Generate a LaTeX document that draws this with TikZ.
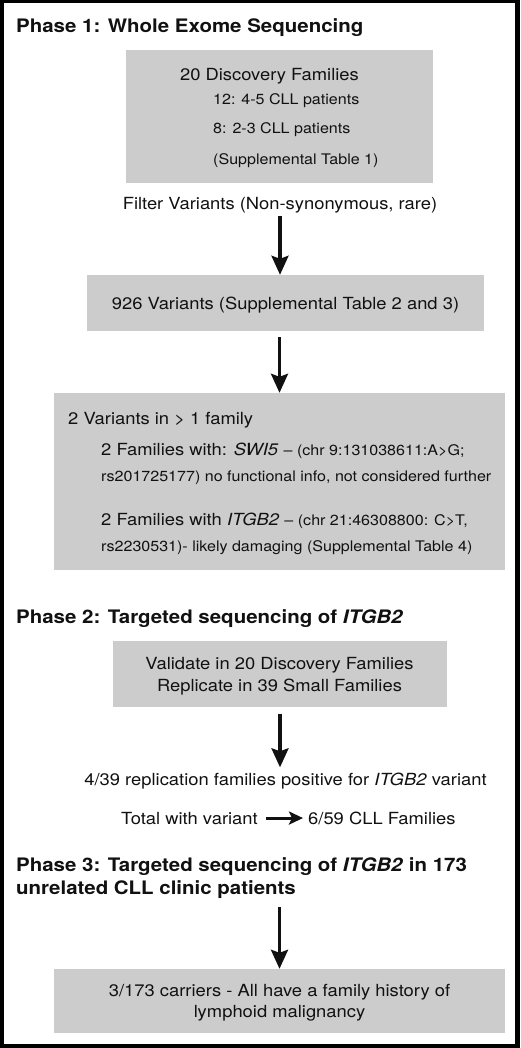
\documentclass[tikz,border=0pt]{standalone}
\usepackage{fontspec}
\setmainfont{TeX Gyre Heros}[FakeStretch=1.1]
\usetikzlibrary{arrows.meta}
\definecolor{boxgray}{RGB}{204,204,204}
\definecolor{ink}{RGB}{17,17,17}
\newcommand{\smf}{\fontsize{14.6}{18}\selectfont}
\begin{document}
\begin{tikzpicture}[x=1pt,y=-1pt,
  box/.style={fill=boxgray, draw=none, inner sep=0pt},
  big/.style={font=\fontsize{16.7}{20}\selectfont, inner sep=0pt, text=ink},
  sm/.style={font=\smf, inner sep=0pt, text=ink},
  ttl/.style={font=\fontsize{18.6}{22}\selectfont\bfseries, inner sep=0pt, anchor=base west, text=ink},
  arr/.style={line width=3.2pt, draw=ink, -{Stealth[length=19pt,width=17pt,inset=3pt]}},
  harr/.style={line width=3pt, draw=ink, -{Stealth[length=14pt,width=13pt,inset=3pt]}},
]
% frame
\fill[black] (0,0) rectangle (520,1048);
\fill[white] (4,3) rectangle (515,1044);

% Phase 1
\node[ttl] (t1) at (16,33) {Phase 1: Whole Exome Sequencing};
\node[box, minimum width=307pt, minimum height=133pt] (b1) at (279.5,116.5) {};
\node[big, anchor=base] (b1a) at (269.5,81) {20 Discovery Families};
\node[sm, anchor=base west] (b1b) at (213,105) {12: 4-5 CLL patients};
\node[sm, anchor=base west] (b1c) at (213,134) {8: 2-3 CLL patients};
\node[sm, anchor=base west] (b1d) at (213,165) {(Supplemental Table 1)};
\node[big, anchor=base] (filter) at (280,210) {Filter Variants (Non-synonymous, rare)};

\node[box, minimum width=397pt, minimum height=56pt] (b2) at (285.5,303) {};
\node[big, anchor=base] (b2a) at (285.5,309) {926 Variants (Supplemental Table 2 and 3)};

\node[box, minimum width=451pt, minimum height=177pt] (b3) at (279.5,481.5) {};
\node[big, anchor=base west] (b3a) at (68,424) {2 Variants in > 1 family};
\node[big, anchor=base west] (b3b) at (101,455) {2 Families with: \textit{SWI5} {\smf – (chr 9:131038611:A>G;}};
\node[sm, anchor=base west] (b3c) at (101,481) {rs201725177) no functional info, not considered further};
\node[big, anchor=base west] (b3d) at (101,525) {2 Families with \textit{ITGB2} {\smf – (chr 21:46308800: C>T,}};
\node[sm, anchor=base west] (b3e) at (101,551) {rs2230531)- likely damaging (Supplemental Table 4)};

% Phase 2
\node[ttl] (t2) at (16,623) {Phase 2: Targeted sequencing of \textit{ITGB2}};
\node[box, minimum width=334pt, minimum height=66pt] (b4) at (280,674) {};
\node[big, anchor=base] (b4a) at (279.5,669) {Validate in 20 Discovery Families};
\node[big, anchor=base] (b4b) at (279.5,691) {Replicate in 39 Small Families};
\node[big, anchor=base] (pos) at (285.5,785) {4/39 replication families positive for \textit{ITGB2} variant};
\node[big, anchor=base west] (tot) at (121,824) {Total with variant};
\node[big, anchor=base west] (res) at (308,824) {6/59 CLL Families};

% Phase 3
\node[ttl] (t3a) at (16,871) {Phase 3: Targeted sequencing of \textit{ITGB2} in 173};
\node[ttl] (t3b) at (16,894) {unrelated CLL clinic patients};
\node[box, minimum width=451pt, minimum height=64pt] (b5) at (279.5,1001) {};
\node[big, anchor=base] (b5a) at (279.5,996) {3/173 carriers - All have a family history of};
\node[big, anchor=base] (b5b) at (279.5,1017) {lymphoid malignancy};

% connectors
\draw[arr, shorten <=2pt] (filter.south) -- (filter.south |- b2.north);
\draw[arr, shorten <=6pt] (b3.north |- b2.south) -- (b3.north);
\draw[arr, shorten <=7pt, shorten >=5pt] (b4.south) -- (b4.south |- pos.north);
\draw[harr, shorten <=8pt, shorten >=5pt] (tot.east) -- (tot.east -| res.west);
\draw[arr, shorten <=9pt] (b5.north |- t3b.south) -- (b5.north);
\end{tikzpicture}
\end{document}
